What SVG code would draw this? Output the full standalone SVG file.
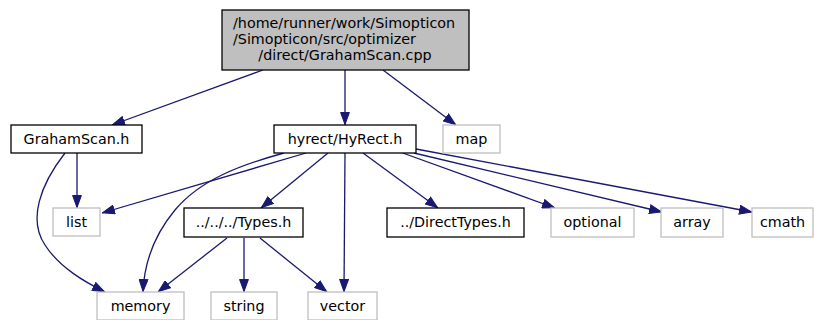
<svg xmlns="http://www.w3.org/2000/svg" width="814" height="320" viewBox="0 0 814 320">
<defs>
<style>
text{font-family:"DejaVu Sans","Liberation Sans",sans-serif;font-size:14.3px;fill:#000}
.c{text-anchor:middle}
.b{fill:#fff;stroke:#000;stroke-width:1.3}
.g{fill:#fff;stroke:#bfbfbf;stroke-width:1.3}
.t{fill:#bfbfbf;stroke:#000;stroke-width:1.3}
.e{fill:none;stroke:#191970;stroke-width:1.3}
</style>
<marker id="a" viewBox="0 0 13 10" refX="13" refY="5" markerWidth="13" markerHeight="10" markerUnits="userSpaceOnUse" orient="auto">
<path d="M0.5,0.6L12.5,5L0.5,9.4Z" fill="#191970" stroke="#191970"/>
</marker>
</defs>
<rect width="814" height="320" fill="#fff"/>
<g id="edges">
<path class="e" marker-end="url(#a)" d="M263,70L112,125"/>
<path class="e" marker-end="url(#a)" d="M345,70L345,125"/>
<path class="e" marker-end="url(#a)" d="M383,70L456,125"/>
<path class="e" marker-end="url(#a)" d="M77,153L77,208"/>
<path class="e" marker-end="url(#a)" d="M65,153C40,185 28,220 45,245C60,268 85,282 105,292"/>
<path class="e" marker-end="url(#a)" d="M306,153L102,213"/>
<path class="e" marker-end="url(#a)" d="M284,153C240,165 200,180 175,210C150,240 144,268 143,292"/>
<path class="e" marker-end="url(#a)" d="M328,153L261,208"/>
<path class="e" marker-end="url(#a)" d="M345,153L344,292"/>
<path class="e" marker-end="url(#a)" d="M363,153L438,208"/>
<path class="e" marker-end="url(#a)" d="M400,152L555,208"/>
<path class="e" marker-end="url(#a)" d="M414,153L662,212"/>
<path class="e" marker-end="url(#a)" d="M416,149L752,212"/>
<path class="e" marker-end="url(#a)" d="M227,238L158,292"/>
<path class="e" marker-end="url(#a)" d="M244,238L244,292"/>
<path class="e" marker-end="url(#a)" d="M260,238L327,292"/>
</g>
<g id="node1"><rect class="t" x="222" y="10" width="247" height="60"/><text x="233" y="28">/home/runner/work/Simopticon</text><text x="233" y="44">/Simopticon/src/optimizer</text><text class="c" x="345" y="60">/direct/GrahamScan.cpp</text></g>
<g id="node2"><rect class="b" x="11" y="125" width="131" height="28"/><text class="c" x="76.5" y="143.5">GrahamScan.h</text></g>
<g id="node3"><rect class="b" x="274" y="125" width="142" height="28"/><text class="c" x="345" y="143.5">hyrect/HyRect.h</text></g>
<g id="node4"><rect class="g" x="443" y="125" width="57" height="28"/><text class="c" x="471.5" y="143.5">map</text></g>
<g id="node5"><rect class="g" x="53" y="208" width="47" height="28"/><text class="c" x="76.5" y="227">list</text></g>
<g id="node6"><rect class="b" x="184" y="208" width="119" height="29"/><text class="c" x="243.5" y="227">../../../Types.h</text></g>
<g id="node7"><rect class="b" x="387" y="208" width="137" height="29"/><text class="c" x="455.5" y="227">../DirectTypes.h</text></g>
<g id="node8"><rect class="g" x="551" y="208" width="83" height="29"/><text class="c" x="592.5" y="227">optional</text></g>
<g id="node9"><rect class="g" x="661" y="208" width="62" height="29"/><text class="c" x="692" y="227">array</text></g>
<g id="node10"><rect class="g" x="752" y="208" width="61" height="29"/><text class="c" x="782.5" y="227">cmath</text></g>
<g id="node11"><rect class="g" x="97" y="292" width="87" height="28"/><text class="c" x="140.5" y="311">memory</text></g>
<g id="node12"><rect class="g" x="211" y="292" width="66" height="28"/><text class="c" x="244" y="311">string</text></g>
<g id="node13"><rect class="g" x="308" y="292" width="69" height="28"/><text class="c" x="342.5" y="311">vector</text></g>
</svg>
